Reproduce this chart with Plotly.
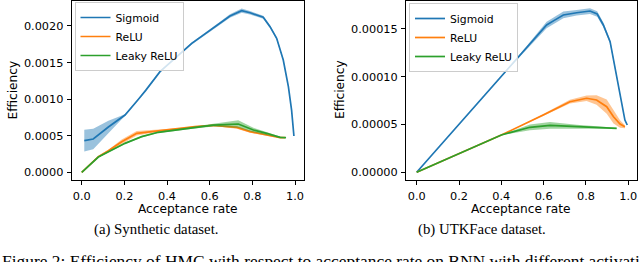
import plotly.graph_objects as go

# ---------------- data ----------------
# (a) Synthetic dataset, efficiency in units of 1e-3
sig_a_x = [0.012, 0.054, 0.125, 0.203, 0.265, 0.30, 0.367, 0.40, 0.45, 0.516, 0.57, 0.60, 0.65, 0.695, 0.75, 0.789, 0.851, 0.883, 0.914, 0.945, 0.969, 0.984, 0.995]
sig_a_y = [0.432, 0.455, 0.619, 0.783, 0.995, 1.12, 1.376, 1.462, 1.592, 1.763, 1.875, 1.937, 2.04, 2.136, 2.209, 2.181, 2.118, 1.99, 1.831, 1.535, 1.17, 0.85, 0.496]
sig_a_sd = [0.148, 0.141, 0.086, 0.01, 0.01, 0.01, 0.01, 0.01, 0.012, 0.015, 0.015, 0.015, 0.02, 0.025, 0.03, 0.025, 0.02, 0.02, 0.015, 0.012, 0.01, 0.01, 0.008]

relu_a_x = [0.0, 0.078, 0.125, 0.1875, 0.258, 0.359, 0.461, 0.531, 0.617, 0.727, 0.789, 0.867, 0.93, 0.953]
relu_a_y = [0.0, 0.213, 0.295, 0.418, 0.533, 0.569, 0.597, 0.623, 0.642, 0.614, 0.556, 0.51, 0.473, 0.473]
relu_a_sd = [0.0, 0.01, 0.015, 0.03, 0.03, 0.015, 0.01, 0.01, 0.01, 0.02, 0.015, 0.01, 0.005, 0.005]

leaky_a_x = [0.0, 0.078, 0.203, 0.281, 0.359, 0.461, 0.531, 0.617, 0.734, 0.805, 0.867, 0.93, 0.958]
leaky_a_y = [0.0, 0.209, 0.396, 0.487, 0.547, 0.588, 0.615, 0.646, 0.66, 0.578, 0.533, 0.478, 0.473]
leaky_a_sd = [0.0, 0.005, 0.01, 0.01, 0.01, 0.01, 0.015, 0.02, 0.05, 0.03, 0.02, 0.01, 0.005]

# (b) UTKFace dataset, efficiency in units of 1e-5
sig_b_x = [0.0, 0.441, 0.614, 0.65, 0.693, 0.756, 0.819, 0.853, 0.882, 0.914, 0.937, 0.961, 0.984, 0.995]
sig_b_y = [0.0, 11.05, 15.42, 15.9, 16.47, 16.7, 16.88, 16.57, 15.42, 13.67, 11.05, 8.27, 5.47, 4.95]
sig_b_sd = [0.0, 0.05, 0.35, 0.35, 0.35, 0.3, 0.3, 0.3, 0.25, 0.2, 0.15, 0.1, 0.05, 0.03]

relu_b_x = [0.0, 0.4, 0.598, 0.724, 0.803, 0.85, 0.898, 0.93, 0.961, 0.984]
relu_b_y = [0.0, 3.9, 6.0, 7.39, 7.75, 7.57, 6.87, 5.82, 5.06, 4.77]
relu_b_sd = [0.0, 0.0, 0.1, 0.2, 0.3, 0.5, 0.75, 0.7, 0.4, 0.15]

leaky_b_x = [0.0, 0.4, 0.441, 0.535, 0.63, 0.756, 0.945]
leaky_b_y = [0.0, 3.9, 4.15, 4.71, 4.92, 4.77, 4.6]
leaky_b_sd = [0.0, 0.0, 0.1, 0.3, 0.35, 0.2, 0.05]

series_names = ["Sigmoid", "ReLU", "Leaky ReLU"]
colors = ["#1f77b4", "#ff7f0e", "#2ca02c"]
band_colors = ["rgba(31,119,180,0.45)", "rgba(255,127,14,0.45)", "rgba(44,160,44,0.45)"]

x_ticks = [0.0, 0.2, 0.4, 0.6, 0.8, 1.0]
y_ticks_a = [0.0, 0.0005, 0.0010, 0.0015, 0.0020]
y_ticks_b = [0.0, 0.00005, 0.00010, 0.00015]

captions = ["(a) Synthetic dataset.", "(b) UTKFace dataset."]
figure_caption = "Figure 2: Efficiency of HMC with respect to acceptance rate on BNN with different activation functions."

# ---------------- figure ----------------
W, H = 640, 262
fig = go.Figure()

panels = [
    ("x", "y", "legend", 1e-3, [(sig_a_x, sig_a_y, sig_a_sd), (relu_a_x, relu_a_y, relu_a_sd), (leaky_a_x, leaky_a_y, leaky_a_sd)]),
    ("x2", "y2", "legend2", 1e-5, [(sig_b_x, sig_b_y, sig_b_sd), (relu_b_x, relu_b_y, relu_b_sd), (leaky_b_x, leaky_b_y, leaky_b_sd)]),
]

for xa, ya, leg, scale, series in panels:
    for i, (xs, ys, sd) in enumerate(series):
        hi = [(v + s) * scale for v, s in zip(ys, sd)]
        lo = [(v - s) * scale for v, s in zip(ys, sd)]
        fig.add_trace(go.Scatter(
            x=list(xs) + list(xs)[::-1], y=hi + lo[::-1],
            fill="toself", fillcolor=band_colors[i], line=dict(width=0),
            mode="lines", showlegend=False, hoverinfo="skip",
            xaxis=xa, yaxis=ya))
        fig.add_trace(go.Scatter(
            x=xs, y=[v * scale for v in ys], mode="lines",
            line=dict(color=colors[i], width=1.7),
            name=series_names[i], legend=leg,
            xaxis=xa, yaxis=ya))

tick_font = dict(family="DejaVu Sans", size=11.3, color="#000000")

def xaxis_cfg(domain, rng, anchor):
    return dict(domain=domain, range=rng, anchor=anchor, tickvals=x_ticks,
                tickformat=".1f", ticks="outside", ticklen=4, tickwidth=1,
                tickcolor="black", showline=True, linecolor="black", linewidth=1,
                mirror=True, showgrid=False, zeroline=False, tickfont=tick_font,
                ticklabelstandoff=1)

def yaxis_cfg(domain, rng, anchor, tv, fmt):
    return dict(domain=domain, range=rng, anchor=anchor, tickvals=tv,
                tickformat=fmt, ticks="outside", ticklen=4, tickwidth=1,
                tickcolor="black", showline=True, linecolor="black", linewidth=1,
                mirror=True, showgrid=False, zeroline=False, tickfont=tick_font,
                ticklabelstandoff=1)

leg_font = dict(family="DejaVu Sans", size=10.8, color="black")
ydom = [1 - 180 / H, 1 - 1 / H]
fig.update_layout(
    width=W, height=H, margin=dict(l=0, r=0, t=0, b=0),
    paper_bgcolor="white", plot_bgcolor="white",
    xaxis=xaxis_cfg([71.7 / W, 304.3 / W], [-0.047, 1.0436], "y"),
    yaxis=yaxis_cfg(ydom, [-0.000105, 0.002341], "x", y_ticks_a, ".4f"),
    xaxis2=xaxis_cfg([406 / W, 636.7 / W], [-0.0505, 1.0397], "y2"),
    yaxis2=yaxis_cfg(ydom, [-0.00000806, 0.0001793], "x2", y_ticks_b, ".5f"),
    legend=dict(x=74.5 / W, y=1 - 2 / H, xanchor="left", yanchor="top",
                bgcolor="rgba(255,255,255,0.8)", bordercolor="#cccccc", borderwidth=1,
                font=leg_font),
    legend2=dict(x=409 / W, y=1 - 3 / H, xanchor="left", yanchor="top",
                 bgcolor="rgba(255,255,255,0.8)", bordercolor="#cccccc", borderwidth=1,
                 font=leg_font),
    showlegend=True,
)

label_font = dict(family="DejaVu Sans", size=12.2, color="black")
annos = [
    dict(text="Acceptance rate", x=188 / W, y=1 - 208.5 / H),
    dict(text="Acceptance rate", x=521.3 / W, y=1 - 208.5 / H),
    dict(text="Efficiency", x=12.5 / W, y=1 - 90 / H, textangle=-90),
    dict(text="Efficiency", x=340 / W, y=1 - 90 / H, textangle=-90),
]
for a in annos:
    fig.add_annotation(xref="paper", yref="paper", showarrow=False,
                       xanchor="center", yanchor="middle", font=label_font, **a)

cap_font = dict(family="Liberation Serif", size=14.8, color="black")
fig.add_annotation(text=captions[0], x=156 / W, y=1 - 229 / H, xref="paper", yref="paper",
                   showarrow=False, xanchor="center", yanchor="middle", font=cap_font)
fig.add_annotation(text=captions[1], x=481.7 / W, y=1 - 229 / H, xref="paper", yref="paper",
                   showarrow=False, xanchor="center", yanchor="middle", font=cap_font)
fig.add_annotation(text=figure_caption, x=0, y=1.5 / H, xref="paper", yref="paper",
                   showarrow=False, xanchor="left", yanchor="middle",
                   font=dict(family="Liberation Serif", size=17.4, color="black"))

fig.write_html("out.html", config={"displayModeBar": False},
               post_script="document.body.style.margin='0';document.body.style.padding='0';"
                           "document.body.style.overflow='hidden';")
